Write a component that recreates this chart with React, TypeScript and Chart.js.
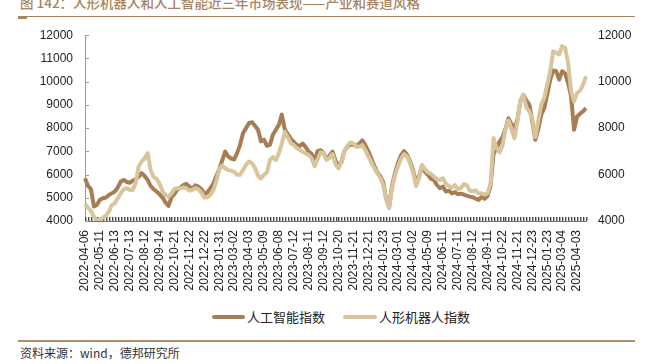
import React, { useEffect, useRef } from 'react';
import { Chart, registerables } from 'chart.js';

Chart.register(...registerables);

const TICK_LABELS = [
  '2022-04-06', '2022-05-11', '2022-06-13', '2022-07-13', '2022-08-12', '2022-09-14',
  '2022-10-21', '2022-11-22', '2022-12-22', '2023-01-31', '2023-03-02', '2023-04-03',
  '2023-05-09', '2023-06-08', '2023-07-12', '2023-08-11', '2023-09-12', '2023-10-20',
  '2023-11-21', '2023-12-21', '2024-01-23', '2024-03-01', '2024-04-02', '2024-05-09',
  '2024-06-11', '2024-07-11', '2024-08-12', '2024-09-11', '2024-10-22', '2024-11-21',
  '2024-12-23', '2025-01-23', '2025-03-04', '2025-04-03',
];

// samples between two labelled dates
const POINTS_PER_LABEL = 5;

const AI_INDEX = [
  5840, 5510, 5370, 4620, 4700, 4910, 4980, 5010, 5120, 5190,
  5270, 5450, 5700, 5770, 5680, 5650, 5730, 5800, 5910, 6060,
  5940, 5770, 5510, 5370, 5270, 5150, 5010, 4800, 4650, 5020,
  5170, 5370, 5450, 5550, 5600, 5480, 5370, 5540, 5480, 5370,
  5170, 5220, 5410, 5600, 5910, 6230, 6600, 6990, 6780, 6690,
  6650, 6920, 7280, 7790, 8000, 8220, 8250, 8100, 7930, 7430,
  7500, 7240, 7280, 7710, 7930, 8140, 8580, 7930, 7740, 7540,
  7410, 7280, 7230, 7330, 7180, 6990, 6890, 6560, 7010, 7050,
  6920, 6660, 6810, 6990, 6600, 6350, 6550, 7020, 7200, 7300,
  7280, 7240, 7330, 7470, 7270, 7010, 6690, 6370, 6090, 5940,
  5670, 4950, 4620, 5550, 6090, 6520, 6830, 7010, 6850, 6560,
  6200, 5630, 5910, 6350, 6130, 5990, 5810, 5770, 5550, 5410,
  5480, 5270, 5310, 5190, 5250, 5150, 5180, 5140, 5090, 5050,
  5020, 4960, 4910, 5040, 4960, 5080, 5510, 6890, 7140, 7410,
  7610, 7960, 8420, 8170, 7970, 8360, 9150, 9430, 9190, 9010,
  8290, 7500, 7960, 8580, 8860, 9440, 10090, 10480, 10450, 10090,
  10450, 10350, 9940, 9370, 7930, 8500, 8620, 8720, 8860,
];

const ROBOT_INDEX = [
  4730, 4580, 4430, 4190, 4000, 4040, 4140, 4230, 4400, 4690,
  4760, 4980, 5190, 5370, 5410, 5340, 5340, 5630, 6350, 6560,
  6690, 6920, 6200, 5890, 5820, 5600, 5280, 5110, 5050, 5190,
  5380, 5410, 5410, 5450, 5410, 5310, 5340, 5410, 5370, 5220,
  5010, 5020, 5120, 5310, 5700, 6230, 6390, 6270, 6190, 6170,
  6120, 5990, 5990, 6200, 6420, 6560, 6490, 6290, 5960, 5830,
  5990, 6090, 6620, 6750, 6620, 6910, 7340, 7830, 7610, 7350,
  7270, 7140, 7070, 6980, 6910, 6840, 6710, 6350, 6660, 6960,
  6910, 6630, 6720, 6880, 6450, 6270, 6530, 7020, 7240, 7380,
  7340, 7200, 7200, 7270, 7050, 6790, 6530, 6270, 6060, 5870,
  5570, 4950, 4550, 5450, 5990, 6370, 6690, 6880, 6780, 6490,
  6100, 5510, 5840, 6420, 6230, 6090, 6030, 5910, 5800, 5770,
  5840, 5600, 5510, 5440, 5540, 5370, 5410, 5580, 5550, 5310,
  5280, 5320, 5190, 5190, 5140, 5190, 5600, 7570, 7140, 6950,
  7240, 7930, 8330, 7970, 7570, 8290, 9190, 9440, 8890, 8720,
  8390, 7610, 8330, 9010, 9300, 9870, 10450, 11310, 11240, 11170,
  11530, 11450, 10810, 9580, 9150, 9510, 9610, 9860, 10230,
];

const SERIES_NAMES = ['人工智能指数', '人形机器人指数'];
const TITLE = '图 142：人形机器人和人工智能近三年市场表现——产业和赛道风格';
const SOURCE = '资料来源：wind，德邦研究所';

const BROWN = '#A67D55';
const LIGHT = '#D8C59C';
const ACCENT = '#A8835F';

const CATEGORY_LABELS = AI_INDEX.map((_, i) =>
  i % POINTS_PER_LABEL === 0 && TICK_LABELS[i / POINTS_PER_LABEL] ? TICK_LABELS[i / POINTS_PER_LABEL] : ''
);

// short inward tick marks drawn from the scales' own tick pixels
const inwardTicks = {
  id: 'inwardTicks',
  beforeDatasetsDraw(chart: any) {
    const ctx = chart.ctx;
    const area = chart.chartArea;
    const xs = chart.scales.x;
    const ys = chart.scales.y;
    ctx.save();
    ctx.globalAlpha = 1;
    ctx.fillStyle = '#4a4a4a';
    for (let i = 0; i < CATEGORY_LABELS.length; i++) {
      const px = Math.round(xs.getPixelForValue(i));
      ctx.fillRect(px, area.bottom - 4, 1.4, 4);
    }
    ctx.fillStyle = '#999999';
    for (let i = 0; i < ys.ticks.length; i++) {
      const py = Math.round(ys.getPixelForValue(ys.ticks[i].value));
      ctx.fillRect(area.left, py, 4, 1);
    }
    ctx.restore();
  },
};

const tickFont = { family: "'Liberation Sans', Arial, sans-serif", size: 12 };

export default function App() {
  const ref = useRef<HTMLCanvasElement | null>(null);

  useEffect(() => {
    if (!ref.current) return;
    const chart = new Chart(ref.current, {
      type: 'line',
      data: {
        labels: CATEGORY_LABELS,
        datasets: [
          {
            label: SERIES_NAMES[0],
            data: AI_INDEX,
            borderColor: BROWN,
            backgroundColor: BROWN,
            borderWidth: 4,
            pointRadius: 0,
            tension: 0,
            borderJoinStyle: 'round',
            yAxisID: 'y',
            order: 2,
          },
          {
            label: SERIES_NAMES[1],
            data: ROBOT_INDEX,
            borderColor: LIGHT,
            backgroundColor: LIGHT,
            borderWidth: 4,
            pointRadius: 0,
            tension: 0,
            borderJoinStyle: 'round',
            yAxisID: 'y1',
            order: 1,
          },
        ],
      },
      options: {
        responsive: false,
        animation: false,
        layout: { padding: 0 },
        plugins: { legend: { display: false }, tooltip: { enabled: false } },
        scales: {
          x: {
            type: 'category',
            grid: { display: true, drawOnChartArea: false, drawTicks: false, color: '#5c5c5c' },
            border: { color: '#777', width: 1 },
            ticks: {
              autoSkip: false,
              maxRotation: 90,
              minRotation: 90,
              padding: 9,
              color: '#222',
              font: tickFont,
              callback: (_v: any, i: number) => CATEGORY_LABELS[i],
            },
            afterFit: (s: any) => { s.height = 84; },
          },
          y: {
            position: 'left',
            min: 4000,
            max: 12000,
            grid: { drawOnChartArea: false, drawTicks: false, color: '#999' },
            border: { color: '#999' },
            ticks: { stepSize: 1000, padding: 12, color: '#222', font: tickFont, callback: (v: any) => String(v) },
            afterFit: (s: any) => { s.width = 85; },
          },
          y1: {
            position: 'right',
            min: 4000,
            max: 12000,
            grid: { drawOnChartArea: false, drawTicks: false },
            border: { display: false },
            ticks: { stepSize: 2000, padding: 12, color: '#222', font: tickFont, callback: (v: any) => String(v) },
            afterFit: (s: any) => { s.width = 67; },
          },
        },
      } as any,
      plugins: [inwardTicks],
    });
    return () => chart.destroy();
  }, []);

  const cjk = "'Noto Sans CJK SC', sans-serif";

  return (
    <div style={{ position: 'absolute', left: 0, top: 0, width: 653, height: 364, background: '#fff', overflow: 'hidden' }}>
      <div style={{ position: 'absolute', left: 20, top: -6, fontFamily: cjk, fontSize: 13.5, fontWeight: 500, lineHeight: '16px', color: ACCENT, whiteSpace: 'nowrap' }}>
        {TITLE}
      </div>
      <div style={{ position: 'absolute', left: 18, top: 16, width: 617, height: 1, background: ACCENT }} />
      <div style={{ position: 'absolute', left: 18, top: 17, width: 9, height: 2, background: ACCENT }} />
      <canvas ref={ref} width={653} height={289} style={{ position: 'absolute', left: 0, top: 16, width: 653, height: 289 }} />
      <div style={{ position: 'absolute', left: 212, top: 315, width: 33, height: 4, borderRadius: 2, background: BROWN }} />
      <div style={{ position: 'absolute', left: 247, top: 309, fontFamily: cjk, fontSize: 13, lineHeight: '16px', color: '#222', whiteSpace: 'nowrap' }}>
        {SERIES_NAMES[0]}
      </div>
      <div style={{ position: 'absolute', left: 343, top: 315, width: 34, height: 4, borderRadius: 2, background: LIGHT }} />
      <div style={{ position: 'absolute', left: 379, top: 309, fontFamily: cjk, fontSize: 13, lineHeight: '16px', color: '#222', whiteSpace: 'nowrap' }}>
        {SERIES_NAMES[1]}
      </div>
      <div style={{ position: 'absolute', left: 18, top: 340, width: 617, height: 2, background: '#B08D6B' }} />
      <div style={{ position: 'absolute', left: 20, top: 345, fontFamily: cjk, fontSize: 12, lineHeight: '16px', color: '#333', whiteSpace: 'nowrap' }}>
        {SOURCE}
      </div>
    </div>
  );
}
